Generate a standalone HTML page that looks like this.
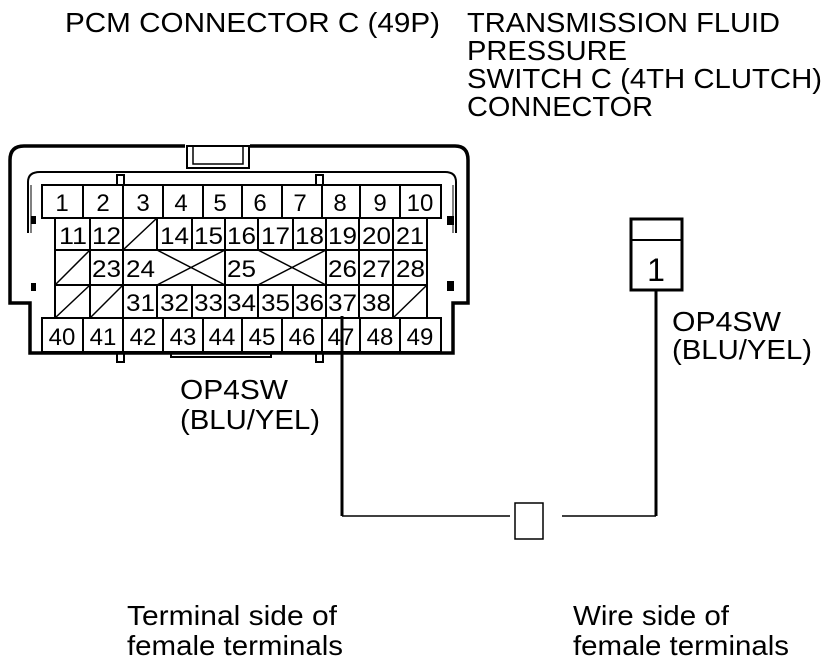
<!DOCTYPE html>
<html><head><style>
html,body{margin:0;padding:0;background:#fff;}
svg{display:block;}
text{font-family:"Liberation Sans",sans-serif;fill:#000;}
</style></head><body>
<svg width="832" height="666" viewBox="0 0 832 666" xmlns="http://www.w3.org/2000/svg">
<g font-size="28">
<text x="65" y="32" textLength="375" lengthAdjust="spacingAndGlyphs">PCM CONNECTOR C (49P)</text>
<text x="467" y="32" textLength="313" lengthAdjust="spacingAndGlyphs">TRANSMISSION FLUID</text>
<text x="467" y="60" textLength="160" lengthAdjust="spacingAndGlyphs">PRESSURE</text>
<text x="467" y="88" textLength="355" lengthAdjust="spacingAndGlyphs">SWITCH C (4TH CLUTCH)</text>
<text x="467" y="116" textLength="186" lengthAdjust="spacingAndGlyphs">CONNECTOR</text>
<text x="672" y="331" textLength="109" lengthAdjust="spacingAndGlyphs">OP4SW</text>
<text x="672" y="359" textLength="140" lengthAdjust="spacingAndGlyphs">(BLU/YEL)</text>
<text x="180" y="399" textLength="108" lengthAdjust="spacingAndGlyphs">OP4SW</text>
<text x="180" y="429" textLength="140" lengthAdjust="spacingAndGlyphs">(BLU/YEL)</text>
<text x="127" y="625" textLength="210" lengthAdjust="spacingAndGlyphs">Terminal side of</text>
<text x="127" y="655" textLength="216" lengthAdjust="spacingAndGlyphs">female terminals</text>
<text x="573" y="625" textLength="156" lengthAdjust="spacingAndGlyphs">Wire side of</text>
<text x="573" y="655" textLength="216" lengthAdjust="spacingAndGlyphs">female terminals</text>
</g>
<g fill="none" stroke="#000">
<path d="M185 146 H24 Q10 146 10 160 V303 H30 V353 H453 V303 H468 V160 Q468 146 455 146 H250" stroke-width="3.5"/>
<rect x="187" y="146" width="62" height="22" stroke-width="2"/>
<rect x="193" y="146" width="50" height="18" stroke-width="1.5"/>
<path d="M28 233 V182 Q28 172 40 172 H445 Q456 172 456 182 V233" stroke-width="2"/>
<path d="M31 233 V185 M453 233 V185" stroke-width="1"/>
<rect x="117" y="175" width="7" height="10" stroke-width="2"/>
<rect x="316" y="175" width="7" height="10" stroke-width="2"/>
<rect x="117" y="352" width="7" height="10" stroke-width="2"/>
<rect x="316" y="352" width="7" height="10" stroke-width="2"/>
<path d="M171 352 V357 H271 V352" stroke-width="2"/>
<g stroke-width="2">
<rect x="42" y="185" width="399" height="33"/>
<rect x="42" y="318" width="399" height="34"/>
<path d="M83 185V218M123 185V218M163 185V218M203 185V218M242 185V218M282 185V218M322 185V218M360 185V218M400 185V218"/>
<path d="M83 318V352M123 318V352M163 318V352M203 318V352M242 318V352M282 318V352M322 318V352M360 318V352M400 318V352"/>
<rect x="55" y="218" width="372" height="100"/>
<path d="M55 250H427M55 285H427"/>
<path d="M90 218V318M123 218V318M157 218V250M157 285V318M192 218V250M192 285V318M225 218V318M258 218V250M258 285V318M293 218V250M293 285V318M326 218V318M359 218V318M393 218V318"/>
</g>
<g stroke-width="1.5">
<path d="M123 250L157 218"/>
<path d="M55 285L90 250"/>
<path d="M157 250L225 285M157 285L225 250"/>
<path d="M258 250L326 285M258 285L326 250"/>
<path d="M55 318L90 285M90 318L123 285"/>
<path d="M393 318L427 285"/>
</g>
</g>
<g fill="#000">
<rect x="31" y="216" width="5" height="8"/>
<rect x="31" y="283" width="5" height="8"/>
<rect x="447" y="216" width="7" height="9"/>
<rect x="447" y="281" width="7" height="10"/>
</g>
<g font-size="24" text-anchor="middle">
<text x="62" y="211">1</text><text x="103" y="211">2</text><text x="143" y="211">3</text><text x="181" y="211">4</text><text x="220" y="211">5</text><text x="260" y="211">6</text><text x="300" y="211">7</text><text x="340" y="211">8</text><text x="380" y="211">9</text><text x="420" y="211">10</text>
<text x="62" y="345">40</text><text x="103" y="345">41</text><text x="143" y="345">42</text><text x="183" y="345">43</text><text x="222" y="345">44</text><text x="262" y="345">45</text><text x="302" y="345">46</text><text x="341" y="345">47</text><text x="380" y="345">48</text><text x="420" y="345">49</text>
</g>
<g font-size="24">
<text x="59" y="244" textLength="28" lengthAdjust="spacingAndGlyphs">11</text><text x="92" y="244" textLength="29" lengthAdjust="spacingAndGlyphs">12</text><text x="160" y="244" textLength="29" lengthAdjust="spacingAndGlyphs">14</text><text x="194" y="244" textLength="29" lengthAdjust="spacingAndGlyphs">15</text><text x="227" y="244" textLength="29" lengthAdjust="spacingAndGlyphs">16</text><text x="261" y="244" textLength="29" lengthAdjust="spacingAndGlyphs">17</text><text x="295" y="244" textLength="29" lengthAdjust="spacingAndGlyphs">18</text><text x="328" y="244" textLength="29" lengthAdjust="spacingAndGlyphs">19</text><text x="362" y="244" textLength="29" lengthAdjust="spacingAndGlyphs">20</text><text x="396" y="244" textLength="28" lengthAdjust="spacingAndGlyphs">21</text>
<text x="92" y="277" textLength="29" lengthAdjust="spacingAndGlyphs">23</text><text x="126" y="277" textLength="29" lengthAdjust="spacingAndGlyphs">24</text><text x="227" y="277" textLength="29" lengthAdjust="spacingAndGlyphs">25</text><text x="328" y="277" textLength="29" lengthAdjust="spacingAndGlyphs">26</text><text x="362" y="277" textLength="29" lengthAdjust="spacingAndGlyphs">27</text><text x="396" y="277" textLength="29" lengthAdjust="spacingAndGlyphs">28</text>
<text x="126" y="311" textLength="29" lengthAdjust="spacingAndGlyphs">31</text><text x="160" y="311" textLength="29" lengthAdjust="spacingAndGlyphs">32</text><text x="194" y="311" textLength="29" lengthAdjust="spacingAndGlyphs">33</text><text x="227" y="311" textLength="29" lengthAdjust="spacingAndGlyphs">34</text><text x="261" y="311" textLength="29" lengthAdjust="spacingAndGlyphs">35</text><text x="295" y="311" textLength="29" lengthAdjust="spacingAndGlyphs">36</text><text x="328" y="311" textLength="29" lengthAdjust="spacingAndGlyphs">37</text><text x="362" y="311" textLength="29" lengthAdjust="spacingAndGlyphs">38</text>
</g>
<g fill="none" stroke="#000">
<path d="M342 316 V516" stroke-width="3"/>
<path d="M342 516 H510 M562 516 H656" stroke-width="1.5"/>
<path d="M656 516 V291" stroke-width="3"/>
<rect x="515" y="503" width="28" height="36" stroke-width="1.5"/>
<rect x="631" y="219" width="51" height="71" stroke-width="3"/>
<path d="M631 240 H682" stroke-width="2"/>
</g>
<text x="656" y="281" font-size="32" text-anchor="middle">1</text>
</svg>
</body></html>
